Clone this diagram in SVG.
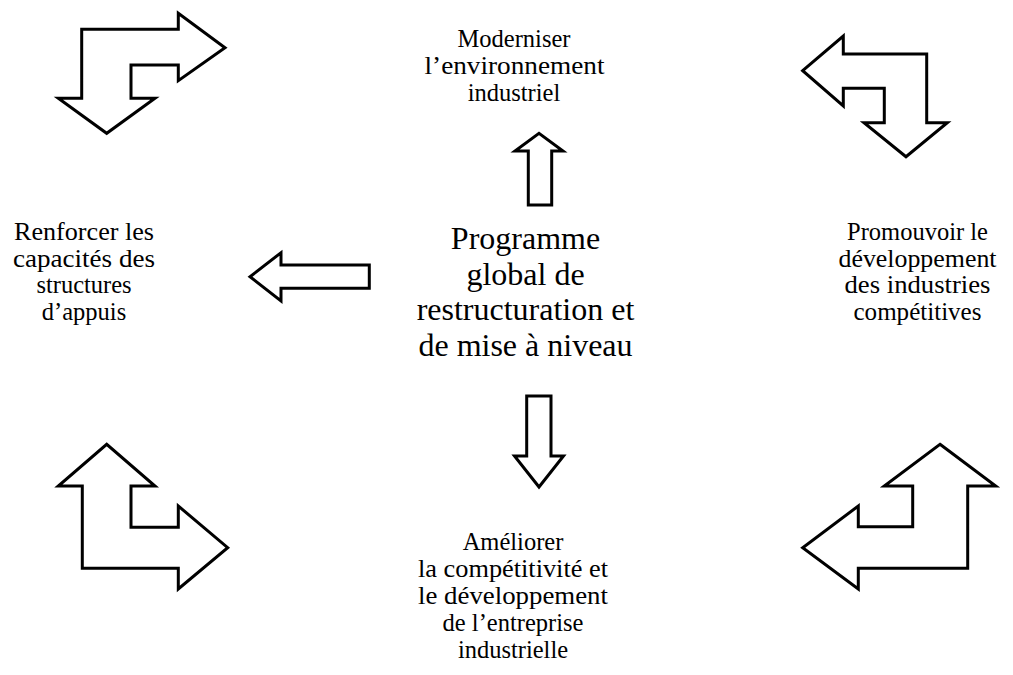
<svg xmlns="http://www.w3.org/2000/svg" width="1013" height="675" viewBox="0 0 1013 675">
  <style>
    .arrow { fill: #ffffff; stroke: #000000; stroke-width: 3; stroke-linejoin: miter; stroke-miterlimit: 10; }
    .label { font-family: "Liberation Serif", "Times New Roman", serif; font-size: 24.5px; fill: #000000; text-anchor: middle; }
    .title { font-family: "Liberation Serif", "Times New Roman", serif; font-size: 32px; fill: #000000; text-anchor: middle; }
  </style>
  <rect width="1013" height="675" fill="#ffffff"/>

  <!-- bent and straight block arrows -->
  <g id="connectors">
    <!-- top-left: right and down -->
    <path class="arrow" d="M81.7,29.3 L178.3,29.3 L178.3,13.3 L225,47.7 L178.3,80.7 L178.3,65 L131,65 L131,98.3 L155,98.3 L106.7,133.3 L58.3,98.3 L81.7,98.3 Z"/>
    <!-- top-right: left and down -->
    <path class="arrow" d="M802.7,70.7 L843.3,36 L843.3,54 L926.7,54 L926.7,122.7 L947.3,122.7 L906,156.7 L864,122.7 L884.3,122.7 L884.3,88.3 L843.3,88.3 L843.3,106 Z"/>
    <!-- bottom-left: up and right -->
    <path class="arrow" d="M82.3,486 L58.3,486 L106.7,444.3 L155,486 L131,486 L131,527.3 L178.3,527.3 L178.3,506 L227.7,547.7 L178.3,589 L178.3,568.3 L82.3,568.3 Z"/>
    <!-- bottom-right: up and left -->
    <path class="arrow" d="M940,444.3 L995.7,486 L967.7,486 L967.7,568.3 L858.3,568.3 L858.3,589 L802.7,547.7 L858.3,506 L858.3,526.7 L912.7,526.7 L912.7,486 L884.3,486 Z"/>
    <!-- centre: up -->
    <path class="arrow" d="M528.3,205 L528.3,151 L515,151 L539,133.3 L563,151 L551.7,151 L551.7,205 Z"/>
    <!-- centre: left -->
    <path class="arrow" d="M369.3,265 L281,265 L281,252.7 L250,276.7 L281,301 L281,288.3 L369.3,288.3 Z"/>
    <!-- centre: down -->
    <path class="arrow" d="M526.7,396 L551,396 L551,456 L563.5,456 L539,487 L514.5,456 L526.7,456 Z"/>
  </g>

  <g id="node-centre">
    <text class="title" x="525.5" y="249">Programme</text>
    <text class="title" x="525.5" y="284.5">global de</text>
    <text class="title" x="525.5" y="320">restructuration et</text>
    <text class="title" x="525.5" y="355.5">de mise à niveau</text>
  </g>

  <g id="node-top">
    <text class="label" x="514" y="47">Moderniser</text>
    <text class="label" x="514.5" y="74" textLength="180" lengthAdjust="spacingAndGlyphs">l’environnement</text>
    <text class="label" x="514" y="101">industriel</text>
  </g>

  <g id="node-left">
    <text class="label" x="84" y="240" textLength="140" lengthAdjust="spacingAndGlyphs">Renforcer les</text>
    <text class="label" x="84" y="266.7" textLength="142" lengthAdjust="spacingAndGlyphs">capacités des</text>
    <text class="label" x="84" y="293.3">structures</text>
    <text class="label" x="84" y="320">d’appuis</text>
  </g>

  <g id="node-right">
    <text class="label" x="917.5" y="240">Promouvoir le</text>
    <text class="label" x="917.5" y="266.7" textLength="158" lengthAdjust="spacingAndGlyphs">développement</text>
    <text class="label" x="917.5" y="293.3" textLength="146" lengthAdjust="spacingAndGlyphs">des industries</text>
    <text class="label" x="917.5" y="320" textLength="128" lengthAdjust="spacingAndGlyphs">compétitives</text>
  </g>

  <g id="node-bottom">
    <text class="label" x="513" y="550">Améliorer</text>
    <text class="label" x="513" y="577" textLength="190" lengthAdjust="spacingAndGlyphs">la compétitivité et</text>
    <text class="label" x="513" y="604" textLength="190" lengthAdjust="spacingAndGlyphs">le développement</text>
    <text class="label" x="513" y="631">de l’entreprise</text>
    <text class="label" x="513" y="658">industrielle</text>
  </g>
</svg>
